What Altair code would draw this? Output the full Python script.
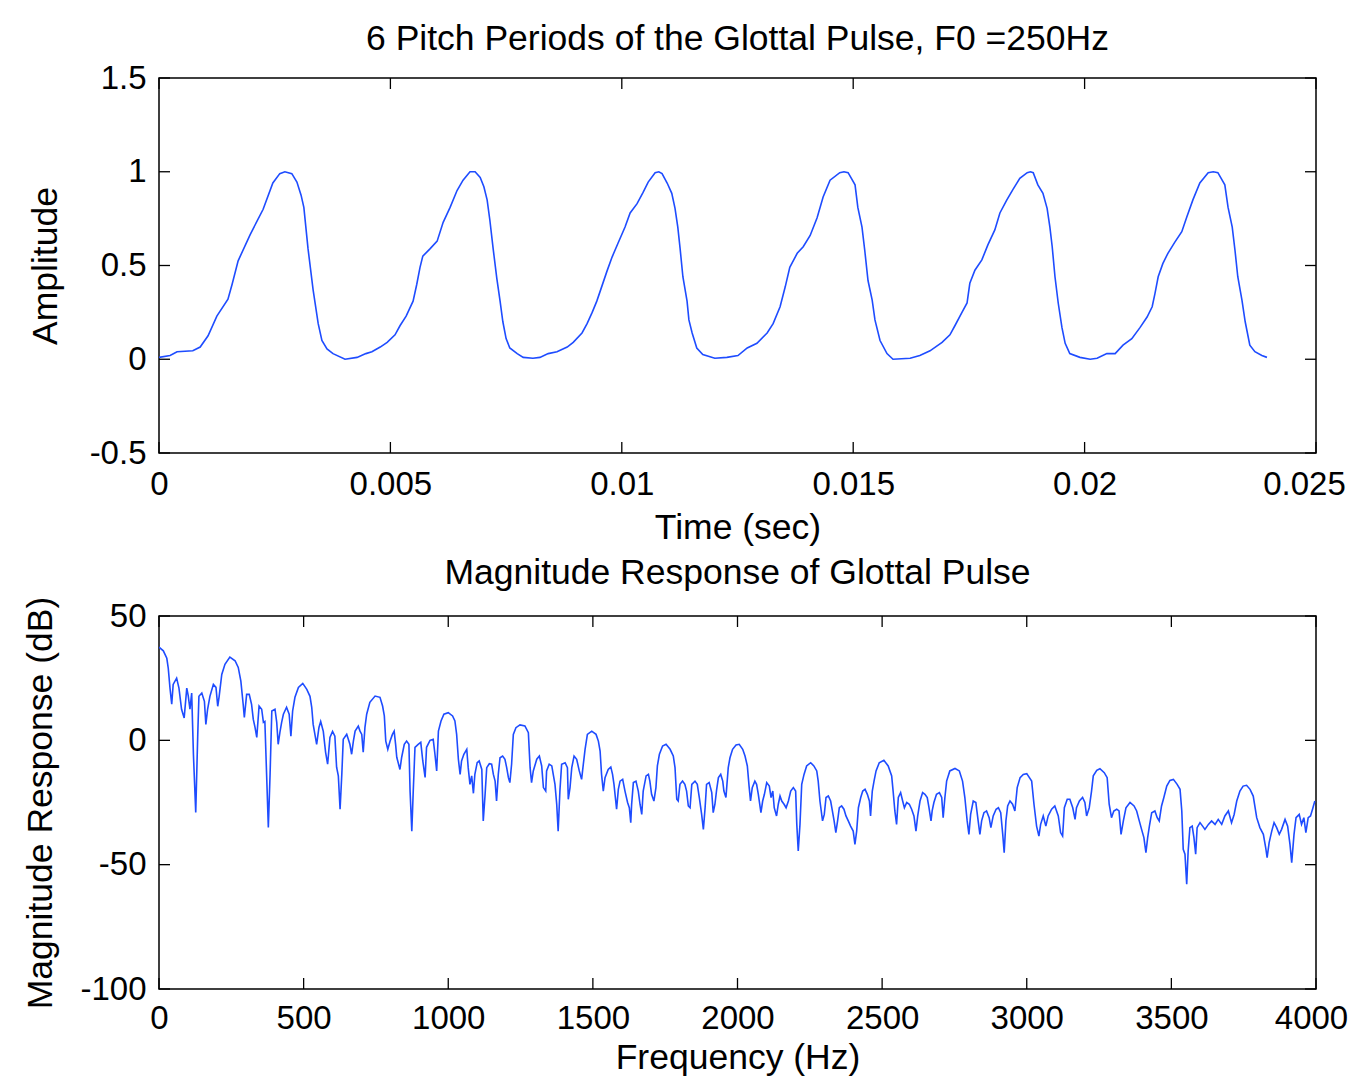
import altair as alt
import pandas as pd

# ---------------- data ----------------
# Top panel: glottal pulse train (time in ms, amplitude)
time_ms = [
    0.00, 0.24, 0.39, 0.73, 0.89, 1.06, 1.25, 1.49, 1.58, 1.71, 1.97, 2.25, 2.46, 2.61, 2.72,
    2.87, 2.98, 3.07, 3.13, 3.22, 3.33, 3.44, 3.52, 3.63, 3.76, 4.02,
    4.28, 4.47, 4.60, 4.78, 4.93, 5.10, 5.21, 5.34, 5.49, 5.57, 5.64, 5.70, 5.86, 6.01, 6.14,
    6.29, 6.44, 6.57, 6.72, 6.83, 6.94, 7.02, 7.09, 7.15, 7.22, 7.30, 7.37, 7.43, 7.50, 7.58,
    7.74, 7.87, 8.08,
    8.23, 8.41, 8.60, 8.82, 8.95, 9.14, 9.25, 9.36, 9.46, 9.57, 9.68, 9.79, 9.92, 10.07, 10.18,
    10.33, 10.46, 10.57, 10.72, 10.80, 10.87, 10.98, 11.08, 11.15, 11.21, 11.26, 11.32, 11.41,
    11.45, 11.52, 11.62, 11.75, 12.01,
    12.27, 12.51, 12.71, 12.92, 13.14, 13.27, 13.42, 13.53, 13.63, 13.79, 13.92, 14.07, 14.22,
    14.35, 14.50, 14.71, 14.80, 14.89, 15.04, 15.10, 15.19, 15.25, 15.32, 15.41, 15.47, 15.58,
    15.73, 15.86, 16.23,
    16.44, 16.66, 16.92, 17.09, 17.20, 17.35, 17.46, 17.52, 17.63, 17.78, 17.91, 18.06, 18.17,
    18.32, 18.45, 18.60, 18.76, 18.83, 18.89, 18.99, 19.10, 19.19, 19.25, 19.30, 19.36, 19.43,
    19.51, 19.58, 19.68, 19.90, 20.12,
    20.27, 20.48, 20.66, 20.83, 21.02, 21.20, 21.35, 21.46, 21.52, 21.59, 21.69, 21.80, 21.95,
    22.10, 22.21, 22.34, 22.49, 22.67, 22.78, 22.88, 23.03, 23.10, 23.19, 23.25, 23.31, 23.40,
    23.47, 23.57, 23.68, 23.83, 23.94,
]
amplitude = [
    0.01, 0.02, 0.04, 0.045, 0.065, 0.125, 0.23, 0.32, 0.40, 0.525, 0.665, 0.80, 0.94, 0.99, 1.00,
    0.99, 0.945, 0.875, 0.81, 0.59, 0.37, 0.19, 0.10, 0.055, 0.03, 0.00,
    0.01, 0.03, 0.04, 0.065, 0.09, 0.13, 0.18, 0.23, 0.31, 0.40, 0.49, 0.55, 0.59, 0.63, 0.73,
    0.81, 0.90, 0.955, 1.00, 1.00, 0.97, 0.92, 0.85, 0.74, 0.59, 0.43, 0.31, 0.20, 0.11, 0.06,
    0.03, 0.01, 0.005,
    0.01, 0.03, 0.04, 0.065, 0.09, 0.14, 0.19, 0.25, 0.31, 0.39, 0.47, 0.545, 0.62, 0.705, 0.78,
    0.83, 0.89, 0.945, 0.995, 1.00, 0.99, 0.94, 0.885, 0.805, 0.705, 0.59, 0.44, 0.31,
    0.21, 0.14, 0.06, 0.025, 0.005,
    0.01, 0.02, 0.06, 0.085, 0.14, 0.19, 0.28, 0.385, 0.49, 0.565, 0.60, 0.66, 0.755,
    0.865, 0.955, 0.995, 1.00, 0.995, 0.93, 0.81, 0.705, 0.58, 0.42, 0.315, 0.21, 0.10,
    0.03, 0.00, 0.005,
    0.02, 0.045, 0.09, 0.13, 0.18, 0.25, 0.30, 0.405, 0.475, 0.53, 0.61, 0.69, 0.78,
    0.85, 0.905, 0.965, 0.995, 1.00, 0.995, 0.93, 0.885, 0.805, 0.705, 0.60, 0.44, 0.30,
    0.17, 0.085, 0.03, 0.01, 0.00,
    0.005, 0.03, 0.03, 0.075, 0.11, 0.17, 0.225, 0.28, 0.35, 0.44, 0.51, 0.565, 0.625,
    0.68, 0.76, 0.85, 0.94, 0.995, 1.00, 0.995, 0.93, 0.81, 0.705, 0.58, 0.44, 0.315,
    0.20, 0.075, 0.04, 0.02, 0.01,
]

# Bottom panel: magnitude response (Hz, dB)
freq_hz = [
    0, 15, 27, 32, 38, 44, 49, 61, 69, 78, 87, 96, 101, 107, 113, 119, 127, 134, 138, 148,
    157, 162, 168, 176, 188, 197, 203, 208, 217, 228, 245, 263, 274, 283, 291, 295, 303, 312,
    320, 326, 332, 338, 346, 355, 361, 366, 372, 378, 384, 390, 401, 407, 412, 418, 424, 430,
    441, 450, 456, 462, 470, 482, 497, 511, 522, 528, 533, 539, 545, 553, 559, 568, 576, 583,
    591, 600, 608, 614, 620, 626, 632, 637, 649, 660, 666, 672, 678, 689, 695, 701, 706, 712,
    718, 729, 747, 764, 773, 779, 784, 791, 799, 807, 813, 818, 822, 833, 839, 848, 856, 864,
    868, 874, 879, 885, 896, 905, 912, 920, 925, 937, 948, 954, 960, 966, 975, 985, 1000, 1015,
    1023, 1029, 1035, 1041, 1046, 1054, 1064, 1069, 1075, 1081, 1087, 1092, 1100, 1107, 1116,
    1121, 1127, 1133, 1142, 1150, 1156, 1162, 1167, 1173, 1179, 1188, 1196, 1202, 1208, 1213,
    1219, 1225, 1234, 1248, 1265, 1277, 1283, 1288, 1294, 1306, 1315, 1323, 1329, 1337, 1340,
    1349, 1358, 1363, 1369, 1375, 1380, 1386, 1392, 1404, 1412, 1415, 1421, 1427, 1435, 1444,
    1453, 1461, 1467, 1473, 1481, 1496, 1511, 1519, 1525, 1530, 1536, 1542, 1553, 1562, 1568,
    1573, 1582, 1588, 1594, 1603, 1611, 1620, 1626, 1631, 1634, 1640, 1649, 1657, 1663, 1669,
    1674, 1684, 1692, 1697, 1703, 1711, 1718, 1723, 1730, 1741, 1753, 1767, 1778, 1784, 1790,
    1795, 1801, 1810, 1818, 1824, 1830, 1836, 1842, 1853, 1861, 1868, 1876, 1882, 1888, 1893,
    1902, 1911, 1916, 1922, 1928, 1934, 1942, 1949, 1953, 1960, 1968, 1974, 1983, 1995, 2006,
    2018, 2026, 2034, 2040, 2045, 2051, 2060, 2066, 2072, 2081, 2087, 2093, 2101, 2110, 2116,
    2122, 2127, 2135, 2141, 2147, 2153, 2161, 2168, 2176, 2184, 2193, 2201, 2205, 2210, 2216,
    2222, 2230, 2239, 2253, 2264, 2274, 2279, 2285, 2294, 2300, 2306, 2314, 2322, 2328, 2334,
    2340, 2346, 2352, 2360, 2368, 2375, 2383, 2391, 2400, 2406, 2412, 2418, 2426, 2433, 2441,
    2449, 2456, 2460, 2466, 2472, 2479, 2490, 2506, 2521, 2533, 2538, 2544, 2550, 2556, 2564,
    2571, 2577, 2585, 2594, 2602, 2610, 2617, 2623, 2631, 2640, 2648, 2656, 2662, 2669, 2673,
    2679, 2688, 2698, 2706, 2711, 2717, 2723, 2734, 2752, 2767, 2778, 2786, 2794, 2800, 2806,
    2815, 2824, 2832, 2838, 2844, 2852, 2861, 2870, 2876, 2884, 2894, 2902, 2910, 2917, 2922,
    2928, 2934, 2942, 2951, 2959, 2967, 2977, 2988, 3000, 3017, 3025, 3034, 3042, 3048, 3057,
    3066, 3074, 3086, 3097, 3109, 3117, 3124, 3130, 3140, 3149, 3159, 3167, 3172, 3182, 3193,
    3201, 3207, 3216, 3224, 3230, 3242, 3253, 3268, 3278, 3285, 3293, 3301, 3311, 3319, 3326,
    3334, 3343, 3357, 3371, 3380, 3389, 3397, 3405, 3412, 3418, 3424, 3432, 3443, 3451, 3458,
    3466, 3474, 3484, 3495, 3507, 3520, 3530, 3536, 3541, 3547, 3553, 3558, 3564, 3572, 3578,
    3584, 3589, 3599, 3608, 3616, 3628, 3639, 3651, 3662, 3674, 3685, 3697, 3708, 3717, 3726,
    3737, 3748, 3760, 3772, 3783, 3795, 3806, 3818, 3826, 3831, 3838, 3847, 3855, 3864, 3873,
    3881, 3893, 3902, 3910, 3916, 3924, 3931, 3942, 3950, 3958, 3965, 3973, 3981, 3988, 3996,
]
mag_db = [
    37.5, 36.0, 33.0, 29.0, 21.0, 14.5, 22.5, 25.0, 21.0, 12.5, 9.0, 21.0, 18.0, 12.5, 19.0, -5.6, -29.0, 2.4, 17.7, 19.0,
    15.7, 6.4, 12.5, 17.7, 22.5, 21.3, 13.7, 17.7, 26.5, 30.6, 33.5, 32.0, 29.3, 23.8, 14.5, 9.2, 18.5, 18.5,
    14.5, 8.4, 5.2, 1.2, 13.8, 12.5, 7.2, 7.6, -13.7, -35.0, -13.7, 11.8, 12.5, 7.2, -1.6, 3.2, 7.2, 10.5,
    13.3, 10.5, 1.7, 11.8, 17.3, 21.3, 22.9, 20.5, 17.7, 13.3, 6.4, 2.4, -1.6, 5.2, 7.6, 3.6, -4.8, -9.6,
    1.2, 3.6, 1.7, -10.8, -14.3, -27.7, -13.7, 0.4, 2.4, -1.6, -5.6, -0.3, 3.7, 5.7, 3.7, 2.4, -4.8, 5.2,
    10.5, 15.3, 17.8, 17.3, 13.8, 9.8, -0.3, -3.6, -0.3, 2.4, 3.7, -1.6, -6.8, -11.7, -6.8, -1.6, -0.3, -1.6,
    -20.4, -36.5, -20.4, -2.8, -1.6, -0.8, -8.3, -14.9, -2.8, 0.0, 0.4, -5.6, -12.3, 3.7, 7.8, 10.5, 11.1, 9.8,
    7.8, 2.4, -7.6, -13.7, -8.3, -5.6, -3.6, -11.0, -17.7, -14.3, -21.3, -13.7, -9.0, -8.3, -11.7,
    -32.4, -22.4, -11.0, -9.4, -9.6, -13.7, -16.4, -24.4, -13.7, -7.0, -6.3, -7.6, -11.0, -15.0, -17.0,
    -9.6, 2.4, 5.1, 6.2, 5.8, 3.1, -11.0, -17.0, -12.3, -7.6, -6.3, -10.3, -19.0, -20.4, -12.3,
    -9.6, -10.3, -13.7, -17.7, -25.7, -36.5, -20.4, -9.6, -9.0, -11.0, -23.7, -19.0, -11.0, -6.3, -7.6,
    -12.3, -15.7, -9.6, -3.6, 2.4, 3.7, 2.4, -0.3, -4.3, -13.7, -20.4, -15.0, -11.7, -10.7, -13.7,
    -17.7, -27.7, -19.7, -16.4, -15.7, -20.4, -25.0, -27.1, -33.1, -25.7, -17.0, -16.4, -20.4, -25.7, -29.8,
    -20.4, -14.3, -13.7, -16.4, -21.7, -24.4, -19.0, -10.3, -5.6, -2.3, -1.6, -3.6, -6.3, -11.0, -23.7,
    -24.4, -17.7, -16.4, -17.7, -20.4, -26.4, -27.1, -17.7, -16.4, -17.7, -23.0, -29.8, -35.8, -27.1, -17.7,
    -17.0, -21.0, -29.1, -25.7, -19.7, -15.0, -13.7, -16.4, -20.4, -23.0, -11.0, -7.0, -3.6, -1.9, -1.6,
    -3.6, -6.3, -10.3, -18.4, -24.4, -19.0, -16.4, -17.7, -21.7, -29.1, -24.4, -21.7, -17.0, -18.4, -23.0,
    -20.4, -27.1, -30.4, -25.7, -22.4, -24.4, -25.7, -27.1, -24.4, -20.4, -19.0, -20.4, -33.8, -44.5, -33.8,
    -17.7, -13.7, -10.3, -9.0, -10.3, -12.3, -16.4, -24.4, -32.4, -29.8, -23.0, -22.4, -24.4, -28.4, -32.4,
    -37.1, -32.4, -27.1, -26.4, -27.7, -30.4, -32.4, -34.5, -36.5, -41.8, -36.5, -27.1, -23.0, -20.4, -19.7,
    -21.7, -24.4, -30.4, -20.4, -16.4, -12.3, -9.0, -8.0, -10.3, -14.3, -20.4, -28.4, -33.8, -23.0, -21.0,
    -24.4, -27.1, -25.0, -25.7, -27.7, -30.4, -36.5, -30.4, -24.4, -21.0, -21.7, -23.0, -27.1, -32.4, -28.4,
    -25.0, -21.7, -21.0, -23.0, -31.1, -23.0, -16.4, -12.3, -11.3, -12.3, -16.4, -23.0, -32.4, -37.8, -29.8,
    -24.4, -25.0, -32.4, -37.8, -32.4, -29.1, -28.4, -31.1, -35.1, -30.4, -27.7, -27.1, -29.1, -37.8, -45.2,
    -32.4, -26.4, -24.4, -25.7, -28.4, -19.0, -15.0, -13.7, -13.4, -16.4, -25.7, -34.5, -38.5, -33.8, -30.4,
    -34.5, -30.4, -27.7, -26.4, -30.4, -37.1, -38.5, -27.1, -23.7, -23.7, -27.1, -31.8, -27.1, -24.4, -23.0,
    -25.0, -30.4, -27.1, -20.4, -14.3, -12.1, -11.4, -13.0, -15.0, -25.7, -31.1, -28.4, -27.7, -28.4, -37.8,
    -32.4, -27.1, -25.0, -26.4, -28.4, -32.4, -35.8, -39.1, -45.2, -39.1, -34.5, -29.1, -28.4, -31.1, -32.4,
    -26.4, -23.0, -18.4, -16.1, -15.7, -17.7, -19.7, -28.4, -43.8, -45.8, -57.9, -44.5, -35.1, -34.5, -39.1,
    -45.8, -35.1, -33.1, -34.5, -35.8, -33.8, -32.4, -33.8, -31.8, -33.8, -30.4, -28.4, -33.1, -29.8, -24.4,
    -20.4, -18.4, -18.1, -19.7, -22.4, -31.1, -35.1, -37.8, -43.1, -47.2, -41.1, -36.5, -33.1, -35.1, -37.8,
    -35.8, -31.8, -34.5, -41.8, -49.2, -37.8, -31.1, -29.8, -33.8, -31.1, -37.1, -31.1, -30.4, -27.7, -24.4,
]

time_ticks = [0, 0.005, 0.01, 0.015, 0.02, 0.025]
amp_ticks = [-0.5, 0, 0.5, 1, 1.5]
freq_ticks = [0, 500, 1000, 1500, 2000, 2500, 3000, 3500, 4000]
db_ticks = [-100, -50, 0, 50]

# ---------------- styling ----------------
FONT = "Liberation Sans"
BLUE = "#1e4cff"
W = 1157
H1 = 375
H2 = 373
TL = 11  # inward tick length (px)
LABEL_FS = 33
TITLE_FS = 35.5


def axis(values, title, label_pad, title_pad, label_offset=0):
    return alt.Axis(
        values=values,
        labelExpr="'' + datum.value",
        title=title,
        ticks=False,
        domain=False,
        grid=False,
        labelFont=FONT,
        titleFont=FONT,
        labelFontSize=LABEL_FS,
        titleFontSize=TITLE_FS,
        labelColor="black",
        titleColor="black",
        titleFontWeight="normal",
        labelFlush=False,
        labelOverlap=False,
        labelPadding=label_pad,
        titlePadding=title_pad,
        labelOffset=label_offset,
    )


def panel(df, xf, yf, xdom, ydom, xt, yt, xtitle, ytitle, title, h,
          xlp, xtp, ytp, xlo=0):
    xs = alt.Scale(domain=xdom, nice=False, zero=False)
    ys = alt.Scale(domain=ydom, nice=False, zero=False)
    xax = axis(xt, xtitle, xlp, xtp, xlo)
    yax = axis(yt, ytitle, 13, ytp)
    line = alt.Chart(df).mark_line(color=BLUE, strokeWidth=1.6, clip=True).encode(
        x=alt.X(f"{xf}:Q", scale=xs, axis=xax, title=xtitle),
        y=alt.Y(f"{yf}:Q", scale=ys, axis=yax, title=ytitle),
        order=alt.Order("idx:Q"),
    )
    xtdf = pd.DataFrame({"v": xt})
    ytdf = pd.DataFrame({"v": yt})
    rule = dict(color="black", strokeWidth=1.3)
    xb = alt.Chart(xtdf).mark_rule(**rule).encode(
        x=alt.X("v:Q", scale=xs, axis=xax, title=xtitle), y=alt.value(h), y2=alt.value(h - TL))
    xtop = alt.Chart(xtdf).mark_rule(**rule).encode(
        x=alt.X("v:Q", scale=xs, axis=xax, title=xtitle), y=alt.value(0), y2=alt.value(TL))
    yl = alt.Chart(ytdf).mark_rule(**rule).encode(
        y=alt.Y("v:Q", scale=ys, axis=yax, title=ytitle), x=alt.value(0), x2=alt.value(TL))
    yr = alt.Chart(ytdf).mark_rule(**rule).encode(
        y=alt.Y("v:Q", scale=ys, axis=yax, title=ytitle), x=alt.value(W), x2=alt.value(W - TL))
    return alt.layer(line, xb, xtop, yl, yr).properties(
        width=W,
        height=h,
        title=alt.TitleParams(title, font=FONT, fontSize=TITLE_FS, fontWeight="normal",
                              color="black", anchor="middle", offset=5),
    )


top_df = pd.DataFrame({"t_ms": time_ms, "amp": amplitude})
top_df["t"] = top_df["t_ms"] / 1000.0
top_df["idx"] = range(len(top_df))

bot_df = pd.DataFrame({"f": freq_hz, "db": mag_db})
bot_df["idx"] = range(len(bot_df))

# keep the rightmost tick labels inside the 1360 px window
top_last_shift = {"condition": {"test": "datum.value > 0.024", "value": -12}, "value": 0}
bot_last_shift = {"condition": {"test": "datum.value > 3999", "value": -5}, "value": 0}

top = panel(top_df, "t", "amp", [0, 0.025], [-0.5, 1.5], time_ticks, amp_ticks,
            "Time (sec)", "Amplitude",
            "6 Pitch Periods of the Glottal Pulse, F0 =250Hz", H1,
            xlp=15, xtp=9, ytp=26, xlo=top_last_shift)
bottom = panel(bot_df, "f", "db", [0, 4000], [-100, 50], freq_ticks, db_ticks,
               "Frequency (Hz)", "Magnitude Response (dB)",
               "Magnitude Response of Glottal Pulse", H2,
               xlp=13, xtp=5, ytp=21, xlo=bot_last_shift)

chart = (
    alt.vconcat(top, bottom, spacing=8)
    .properties(padding={"left": 15, "top": 12, "right": 0, "bottom": 0}, background="white")
    .configure(font=FONT)
    .configure_view(stroke="black", strokeWidth=1.5)
)

chart.save("out.html", embed_options={"renderer": "svg", "actions": False})
